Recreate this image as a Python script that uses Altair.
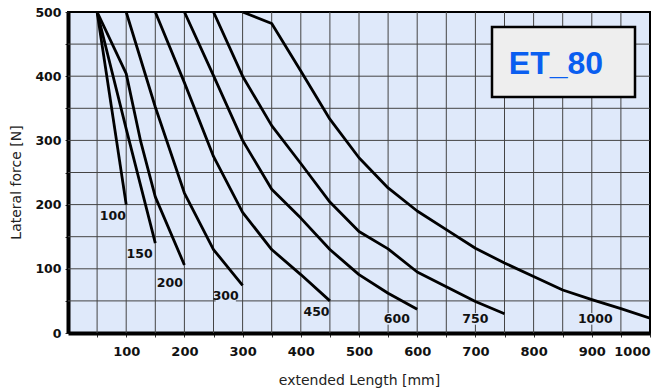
import altair as alt
import pandas as pd

# Lateral force vs. extended length, one curve per stroke length (mm)
stroke_100_x = [50, 100]
stroke_100_y = [500, 200]

stroke_150_x = [50, 100, 150]
stroke_150_y = [500, 318, 140]

stroke_200_x = [50, 100, 125, 150, 200]
stroke_200_y = [500, 404, 298, 212, 106]

stroke_300_x = [100, 150, 200, 250, 300]
stroke_300_y = [500, 352, 218, 130, 74]

stroke_450_x = [150, 200, 250, 300, 350, 400, 450]
stroke_450_y = [500, 390, 275, 188, 130, 91, 50]

stroke_600_x = [200, 250, 300, 350, 400, 450, 500, 550, 600]
stroke_600_y = [500, 401, 300, 224, 179, 130, 91, 62, 37]

stroke_750_x = [250, 300, 350, 400, 450, 500, 550, 600, 650, 700, 750]
stroke_750_y = [500, 400, 323, 264, 204, 158, 131, 95, 72, 49, 30]

stroke_1000_x = [300, 350, 400, 450, 500, 550, 600, 650, 700, 750, 800, 850, 900, 950, 1000]
stroke_1000_y = [500, 482, 408, 333, 273, 226, 190, 161, 132, 109, 88, 67, 52, 38, 23]

strokes = ["100", "150", "200", "300", "450", "600", "750", "1000"]
series = {
    "100": (stroke_100_x, stroke_100_y),
    "150": (stroke_150_x, stroke_150_y),
    "200": (stroke_200_x, stroke_200_y),
    "300": (stroke_300_x, stroke_300_y),
    "450": (stroke_450_x, stroke_450_y),
    "600": (stroke_600_x, stroke_600_y),
    "750": (stroke_750_x, stroke_750_y),
    "1000": (stroke_1000_x, stroke_1000_y),
}

# grid lines every 50 in both directions
grid_x = list(range(50, 1000, 50))
grid_y = list(range(50, 500, 50))
tick_x = list(range(50, 1001, 50))
tick_y = list(range(0, 501, 50))

# where each curve label sits relative to the curve's end point (data units)
label_offset = {
    "100": (-23, -17), "150": (-27, -17), "200": (-25, -28), "300": (-29, -17),
    "450": (-23, -18), "600": (-35, -15), "750": (-50, -8), "1000": (-94, -1),
}

rows = []
for s in strokes:
    xs, ys = series[s]
    for i, (xv, yv) in enumerate(zip(xs, ys)):
        rows.append({"stroke": s, "order": i, "length": xv, "force": yv})
curves = pd.DataFrame(rows)

lab_rows = []
for s in strokes:
    xs, ys = series[s]
    dx, dy = label_offset[s]
    lx, ly = xs[-1] + dx, ys[-1] + dy
    half_w = 4.8 * len(s) + 3
    lab_rows.append({"stroke": s, "lx": lx, "ly": ly,
                     "x0": lx - half_w, "x1": lx + half_w,
                     "y0": ly - 9, "y1": ly + 9})
labels = pd.DataFrame(lab_rows)

BG = "#dfe9fa"
FONT = "DejaVu Sans"
GRID = "#444444"

x_scale = alt.Scale(domain=[0, 1000], nice=False, zero=True)
y_scale = alt.Scale(domain=[0, 500], nice=False, zero=True)

x_axis = alt.Axis(
    values=tick_x,
    format="d",
    labelExpr="datum.value % 100 == 0 ? datum.label : ''",
    labelOverlap=False,
    grid=False,
    domainColor="black", domainWidth=4,
    tickColor="#333", tickSize=4, tickWidth=1,
    labelFont=FONT, labelFontWeight="bold", labelFontSize=13, labelColor="#111",
    labelPadding=8,
    title="extended Length [mm]", titleFont=FONT, titleFontWeight="normal",
    titleFontSize=14, titleColor="#222",
    titleX=291, titleY=51, titleBaseline="alphabetic", titleAlign="center",
)
y_axis = alt.Axis(
    values=tick_y,
    format="d",
    labelExpr="datum.value % 100 == 0 ? datum.label : ''",
    labelOverlap=False,
    grid=False,
    domainColor="black", domainWidth=4,
    tickColor="#333", tickSize=3, tickWidth=1,
    labelFont=FONT, labelFontWeight="bold", labelFontSize=12.5, labelColor="#111",
    labelPadding=4,
    title="Lateral force [N]", titleFont=FONT, titleFontWeight="normal",
    titleFontSize=14, titleColor="#222",
    titleX=-48, titleY=170, titleAngle=270, titleBaseline="alphabetic",
    titleAlign="center",
)

vgrid = alt.Chart(pd.DataFrame({"g": grid_x})).mark_rule(
    color=GRID, strokeWidth=1
).encode(x=alt.X("g:Q", scale=x_scale, axis=x_axis))
hgrid = alt.Chart(pd.DataFrame({"g": grid_y})).mark_rule(
    color=GRID, strokeWidth=1
).encode(y=alt.Y("g:Q", scale=y_scale, axis=y_axis))

lines = alt.Chart(curves).mark_line(
    color="black", strokeWidth=2.8, clip=True, strokeJoin="round"
).encode(
    x=alt.X("length:Q", scale=x_scale, axis=x_axis),
    y=alt.Y("force:Q", scale=y_scale, axis=y_axis),
    detail="stroke:N",
    order="order:Q",
)

label_bg = alt.Chart(labels).mark_rect(color=BG).encode(
    x=alt.X("x0:Q", scale=x_scale, axis=x_axis), x2="x1:Q",
    y=alt.Y("y0:Q", scale=y_scale, axis=y_axis), y2="y1:Q",
)
label_txt = alt.Chart(labels).mark_text(
    font=FONT, fontWeight="bold", fontSize=12.5, color="#111", baseline="middle"
).encode(
    x=alt.X("lx:Q", scale=x_scale, axis=x_axis),
    y=alt.Y("ly:Q", scale=y_scale, axis=y_axis),
    text="stroke:N",
)

# model name badge in the top-right corner
badge_box = alt.Chart(pd.DataFrame({"k": [0]})).mark_rect(
    fill="#eeeeee", stroke="black", strokeWidth=2.5
).encode(x=alt.value(424), x2=alt.value(567), y=alt.value(15), y2=alt.value(85))
badge_txt = alt.Chart(pd.DataFrame({"t": ["ET_80"]})).mark_text(
    font="Liberation Sans", fontWeight="bold", fontSize=32, color="#0a5ef0",
    baseline="alphabetic", align="center"
).encode(x=alt.value(488), y=alt.value(62), text="t:N")

chart = alt.layer(
    vgrid, hgrid, lines, label_bg, label_txt, badge_box, badge_txt
).properties(
    width=582, height=321,
    padding={"left": 68, "top": 12, "right": 14, "bottom": 58},
    autosize=alt.AutoSizeParams(type="none"),
    background="white",
).configure_view(
    fill=BG, stroke="black", strokeWidth=2,
)

chart.save("out.html", embed_options={"renderer": "svg", "actions": False})
